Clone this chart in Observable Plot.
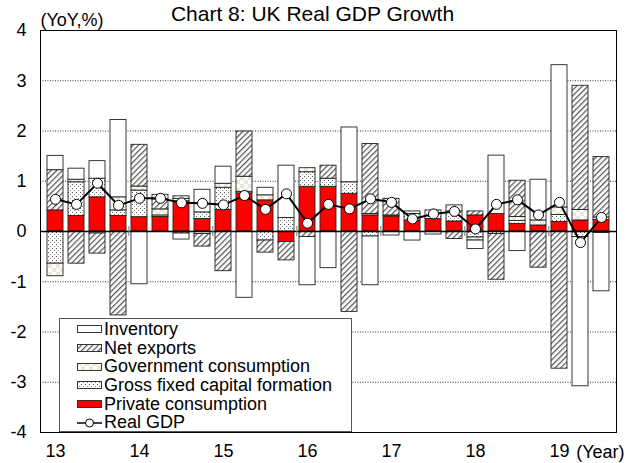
<!DOCTYPE html>
<html>
<head>
<meta charset="utf-8">
<script src="https://cdn.jsdelivr.net/npm/d3@7"></script>
<script src="https://cdn.jsdelivr.net/npm/@observablehq/plot@0.6"></script>
<style>
  body { margin: 0; background: #fff; font-family: "Liberation Sans", Arial, sans-serif; }
  #wrap { position: relative; width: 629px; height: 463px; overflow: hidden; }
  #legend { position: absolute; left: 59px; top: 318px; width: 293px; height: 114px;
    border: 1px solid #555; background: #fff; box-sizing: border-box; font-size: 18px; padding-top: 1px; }
  .item { display: flex; align-items: center; height: 18.7px; line-height: 18.7px; color: #000; white-space: nowrap; }
  .item svg { margin-left: 17px; margin-right: 2px; flex: none; }
</style>
</head>
<body>
<svg width="0" height="0" style="position:absolute">
  <defs>
    <pattern id="hatch" width="4" height="4" patternUnits="userSpaceOnUse" patternTransform="rotate(45)">
      <rect width="4" height="4" fill="#fff"/>
      <line x1="0.6" y1="0" x2="0.6" y2="4" stroke="#555" stroke-width="1.3"/>
    </pattern>
    <pattern id="dots" width="4" height="4" patternUnits="userSpaceOnUse">
      <rect width="4" height="4" fill="#fff"/>
      <rect x="0" y="0" width="1" height="1" fill="#555"/>
      <rect x="2" y="2" width="1" height="1" fill="#888"/>
    </pattern>
    <pattern id="check" width="8" height="8" patternUnits="userSpaceOnUse">
      <rect width="8" height="8" fill="#fff"/>
      <rect width="4" height="4" fill="#ece8d8"/>
      <rect x="4" y="4" width="4" height="4" fill="#ece8d8"/>
    </pattern>
  </defs>
</svg>
<div id="wrap">
  <div id="chart"></div>
  <div id="legend"></div>
</div>
<script>
const titleText = "Chart 8: UK Real GDP Growth";
const yUnit = "(YoY,%)";
const xUnit = "(Year)";
const quarters = ["13Q1","13Q2","13Q3","13Q4","14Q1","14Q2","14Q3","14Q4","15Q1","15Q2","15Q3","15Q4",
  "16Q1","16Q2","16Q3","16Q4","17Q1","17Q2","17Q3","17Q4","18Q1","18Q2","18Q3","18Q4","19Q1","19Q2","19Q3"];
const yearTicks = ["13Q1","14Q1","15Q1","16Q1","17Q1","18Q1","19Q1"];
const yTicks = [-4,-3,-2,-1,0,1,2,3,4];

const privateCons = [0.42,0.31,0.68,0.31,0.285,0.29,0.60,0.25,0.43,0.76,0.62,-0.21,0.89,0.89,0.75,0.32,0.30,0.22,0.25,0.20,0.32,0.35,0.15,0.12,0.19,0.22,0.23];
const gfcf        = [-0.64,0.67,0.37,0.11,0.53,0.03,0.05,0.13,0.44,0.03,-0.18,0.27,0.29,0.16,0.23,-0.10,0.02,0.13,0.17,0.20,-0.12,-0.05,0.06,0,0.14,-0.11,-0.03];
const govCons     = [-0.25,0.05,-0.04,0.26,0.08,0.12,0.05,-0.05,0.08,0.30,0.10,0,0.08,0,0,0.03,0,0.05,0,0.12,-0.06,0,0.08,0.10,0.15,0.21,0.05];
const netExports  = [0.80,-0.64,-0.40,-1.67,0.83,0.20,-0.04,-0.25,-0.79,0.90,-0.24,-0.365,-0.11,0.26,-1.60,1.39,0.33,0,0,-0.15,0.08,-0.91,0.72,-0.72,-2.73,2.47,1.20];
const inventory   = [0.285,0.22,0.35,1.54,-1.05,0.09,-0.12,0.45,0.34,-1.32,0.15,1.04,-0.96,-0.73,1.09,-0.97,-0.08,-0.18,-0.06,0,-0.17,1.16,-0.39,0.81,2.83,-2.97,-1.16];
const realGDP     = [0.64,0.54,0.96,0.52,0.66,0.66,0.57,0.56,0.53,0.715,0.44,0.75,0.165,0.54,0.45,0.65,0.58,0.25,0.35,0.40,0.05,0.54,0.63,0.33,0.58,-0.22,0.28];

const seriesNames = ["Private consumption","Gross fixed capital formation","Government consumption","Net exports","Inventory"];
const seriesFills = ["#ff0000","url(#dots)","url(#check)","url(#hatch)","#ffffff"];
const seriesValues = [privateCons, gfcf, govCons, netExports, inventory];
const legendOrder = ["Inventory","Net exports","Government consumption","Gross fixed capital formation","Private consumption"];

const rows = [];
seriesNames.forEach((s, k) => {
  seriesValues[k].forEach((v, i) => { if (v !== 0) rows.push({q: quarters[i], series: s, value: v}); });
});
const gdpRows = quarters.map((q, i) => ({q, value: realGDP[i]}));

const W = 629, H = 463, mL = 40, mR = 13, mT = 30, mB = 31;
const step = (W - mL - mR) / quarters.length;
const boundaries = yearTicks.slice(1);

const chart = Plot.plot({
  width: W, height: H,
  marginLeft: mL, marginRight: mR, marginTop: mT, marginBottom: mB,
  style: {fontFamily: "'Liberation Sans', Arial, sans-serif", fontSize: "18px", color: "#000", background: "#fff"},
  x: {type: "band", domain: quarters, paddingInner: 0.25, paddingOuter: 0.125, label: null},
  y: {domain: [-4, 4], label: null},
  color: {domain: seriesNames, range: seriesFills},
  marks: [
    Plot.ruleY(yTicks.filter(d => d !== 0 && d !== -4), {stroke: "#333", strokeWidth: 1, strokeDasharray: "1,1.5"}),
    Plot.barY(rows, Plot.stackY({x: "q", y: "value", z: "series", order: seriesNames,
      fill: "series", stroke: "#222", strokeWidth: 0.9})),
    Plot.ruleY([0], {stroke: "#000", strokeWidth: 1.5}),
    Plot.ruleX(boundaries, {x: d => d, y1: -0.1, y2: 0.1, dx: -step / 2, stroke: "#777", strokeWidth: 1}),
    Plot.line(gdpRows, {x: "q", y: "value", stroke: "#000", strokeWidth: 2}),
    Plot.dot(gdpRows, {x: "q", y: "value", r: 5, fill: "#fff", stroke: "#000", strokeWidth: 1}),
    Plot.frame({stroke: "#000", strokeWidth: 1}),
    Plot.axisY({ticks: yTicks, tickSize: 0, tickPadding: 14, tickFormat: d => String(d), fontSize: 18}),
    Plot.axisX({ticks: yearTicks, tickSize: 0, tickPadding: 12, tickFormat: d => d.slice(0, 2), fontSize: 18}),
    Plot.text([titleText], {text: d => d, frameAnchor: "top", dx: -16, dy: -16, fontSize: 21, lineAnchor: "middle", textAnchor: "middle"}),
    Plot.text([yUnit], {text: d => d, frameAnchor: "top-left", dy: -10, fontSize: 18, lineAnchor: "middle", textAnchor: "start"}),
    Plot.text([xUnit], {text: d => d, frameAnchor: "bottom-right", dx: 8, dy: 20, fontSize: 18, lineAnchor: "middle", textAnchor: "end"})
  ]
});
document.getElementById("chart").appendChild(chart);

// legend
const legend = d3.select("#legend");
legendOrder.forEach(name => {
  const fill = seriesFills[seriesNames.indexOf(name)];
  const it = legend.append("div").attr("class", "item");
  const s = it.append("svg").attr("width", 25).attr("height", 10);
  s.append("rect").attr("x", 0.5).attr("y", 1.5).attr("width", 24).attr("height", 7)
    .attr("fill", fill).attr("stroke", "#222").attr("stroke-width", 0.9);
  it.append("span").text(name);
});
const g = legend.append("div").attr("class", "item");
const gs = g.append("svg").attr("width", 25).attr("height", 12);
gs.append("line").attr("x1", 0).attr("x2", 25).attr("y1", 6).attr("y2", 6).attr("stroke", "#000").attr("stroke-width", 1.5);
gs.append("circle").attr("cx", 12.5).attr("cy", 6).attr("r", 4).attr("fill", "#fff").attr("stroke", "#000");
g.append("span").text("Real GDP");
</script>
</body>
</html>
